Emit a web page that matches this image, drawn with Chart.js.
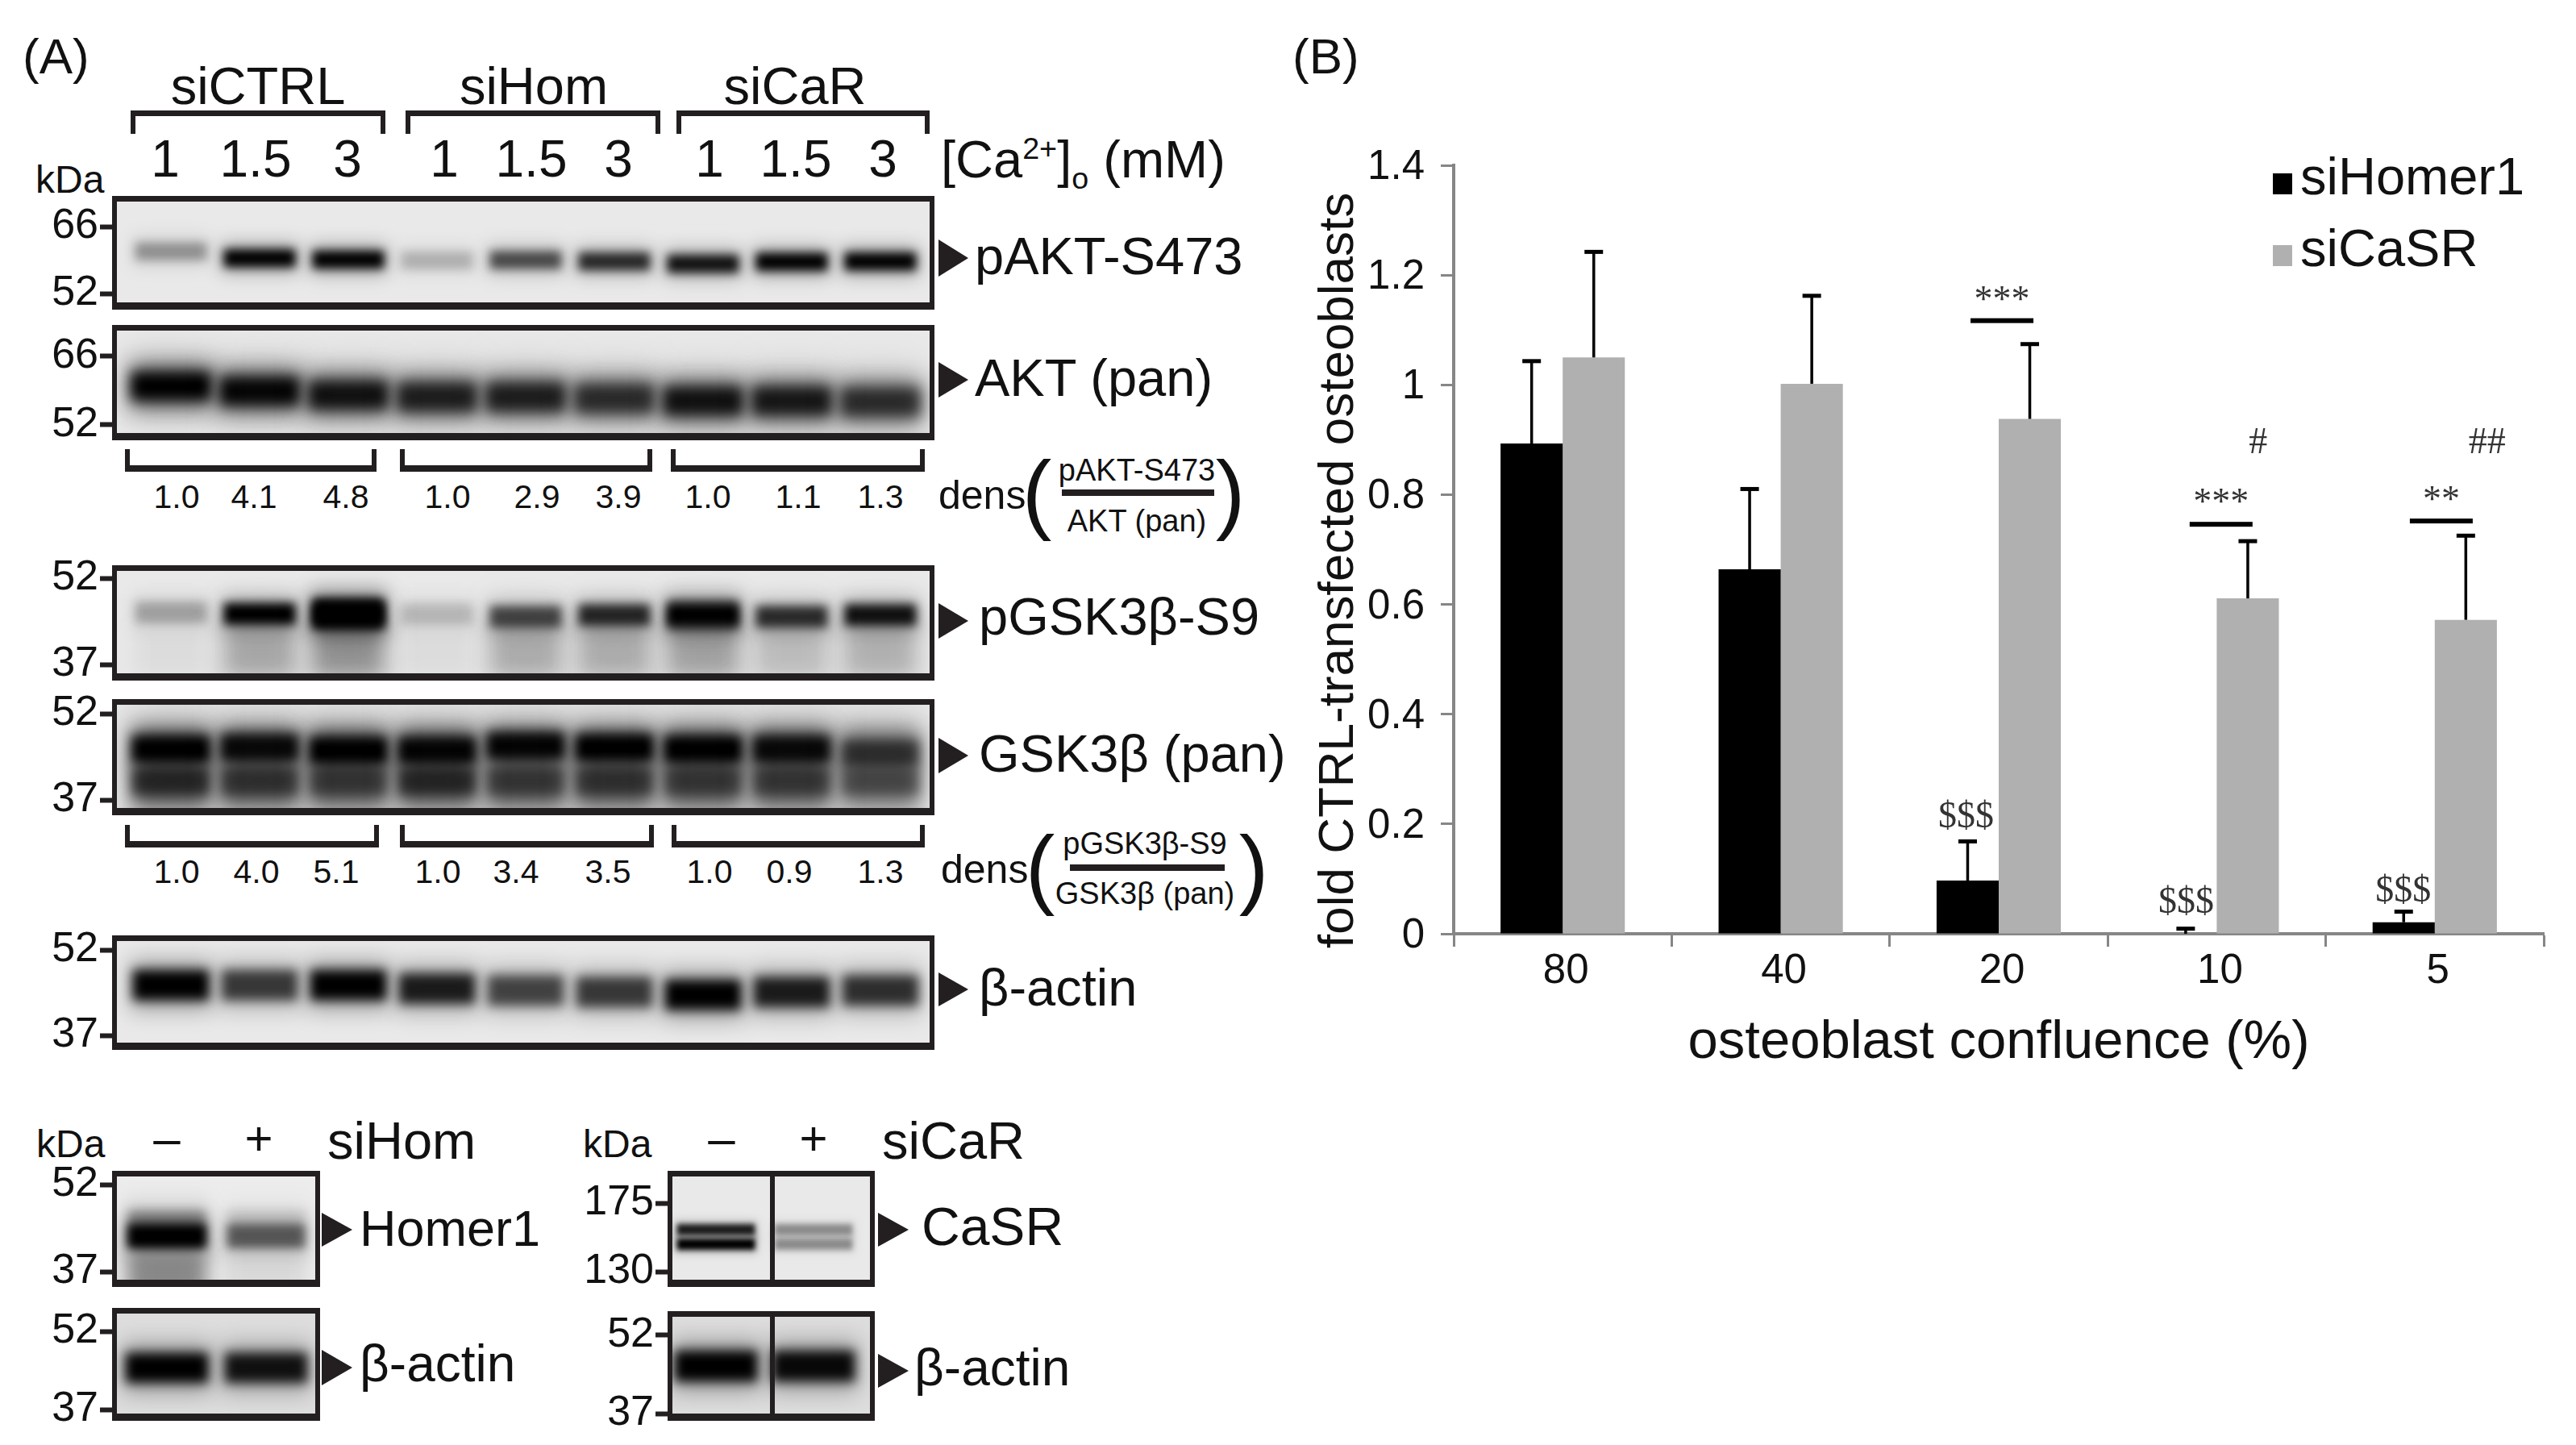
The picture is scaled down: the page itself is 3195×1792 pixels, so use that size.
<!DOCTYPE html>
<html>
<head>
<meta charset="utf-8">
<title>siHomer1 / siCaSR osteoblasts</title>
<script src="https://cdn.jsdelivr.net/npm/chart.js@4/dist/chart.umd.js"></script>
<style>
    html, body { margin: 0; background: #fff; }
    #page { position: relative; width: 3195px; height: 1792px; overflow: hidden; font-family: "Liberation Sans", Arial, sans-serif; color: #111; }
    canvas { position: absolute; }
    .t { position: absolute; white-space: nowrap; line-height: 1; }
    .t sup, .t sub { font-size: 58%; line-height: 0; }
    .box { position: absolute; border: 0 solid #231f20; box-sizing: border-box; }
    .arrow { position: absolute; width: 0; height: 0; border-style: solid; border-color: transparent transparent transparent #231f20; }
</style>
</head>
<body>
<div id="page"></div>
<script>
// ---------- Panel B data ----------
const confluence = ["80", "40", "20", "10", "5"];
const homerMeans = [0.893, 0.664, 0.097, 0, 0.021];
const casrMeans = [1.05, 1.002, 0.938, 0.611, 0.572];
const homerTops = [1.044, 0.811, 0.169, 0.01, 0.041];
const casrTops = [1.243, 1.163, 1.075, 0.716, 0.726];
const sigLines = [[2.015, 1.117], [3.02, 0.746], [4.03, 0.752]];
const sigMarks = [
    ["***", 2.015, 1.164], ["***", 3.02, 0.795], ["**", 4.03, 0.799],
    ["#", 3.19, 0.896], ["##", 4.24, 0.896],
    ["$$$", 1.85, 0.217], ["$$$", 2.86, 0.062], ["$$$", 3.856, 0.082]
];

// ---------- Panel A data (band centre in kDa, darkness 0-1 per lane) ----------
const lanes9 = [1, 2, 3, 4, 5, 6, 7, 8, 9];
const lanes2 = [1, 2];

const paktTicks = [66, 52];
const paktCentre = [60.8, 59.4, 59.1, 58.9, 59, 58.7, 58.2, 58.6, 58.7];
const paktDark = [0.32, 1, 1, 0.2, 0.62, 0.78, 0.9, 1, 1];

const aktTicks = [66, 52];
const aktCentre = [59.9, 58.9, 58.1, 57.7, 57.7, 57.4, 56.9, 56.9, 56.7];
const aktDark = [1, 0.95, 0.85, 0.75, 0.75, 0.65, 0.85, 0.8, 0.65];
const aktHaze = [0.3, 0.3, 0.3, 0.3, 0.3, 0.3, 0.3, 0.3, 0.3];

const pgskTicks = [52, 37];
const pgskCentre = [46.1, 45.8, 45.8, 45.8, 45.3, 45.6, 45.6, 45.3, 45.6];
const pgskDark = [0.25, 1, 1, 0.16, 0.62, 0.78, 1, 0.75, 0.9];
const pgskCore = [0, 0, 0.9, 0, 0, 0, 0.4, 0, 0];
const pgskSmearAt = [40, 40, 40, 40, 40, 40, 40, 40, 40];
const pgskSmear = [0.04, 0.24, 0.32, 0.04, 0.22, 0.22, 0.26, 0.16, 0.2];

const gskTicks = [52, 37];
const gskCentre = [45.8, 46.1, 45.6, 45.6, 46.4, 46.1, 45.8, 45.8, 45.1];
const gskDark = [1, 0.9, 1, 0.95, 0.95, 1, 1, 0.9, 0.6];
const gskLowerAt = [40.2, 40.2, 40.2, 40.2, 40.2, 40.2, 40.2, 40.2, 40.2];
const gskLower = [0.6, 0.5, 0.45, 0.6, 0.45, 0.5, 0.45, 0.45, 0.4];
const gskSmearAt = [42.5, 42.5, 42.5, 42.5, 42.5, 42.5, 42.5, 42.5, 42.5];
const gskSmear = [0.5, 0.5, 0.5, 0.5, 0.5, 0.5, 0.5, 0.5, 0.4];

const actinTicks = [52, 37];
const actinCentre = [45.8, 45.8, 45.8, 45.2, 44.9, 44.6, 44.1, 44.6, 44.9];
const actinDark = [1, 0.7, 1, 0.85, 0.65, 0.7, 1, 0.85, 0.75];

const homer1Ticks = [52, 37];
const homer1Centre = [43.1, 43.1];
const homer1Dark = [1, 0.5];
const homer1HazeAt = [44.5, 44.5];
const homer1Haze = [0.3, 0.1];
const homer1SmearAt = [35.2, 35.2];
const homer1Smear = [0.35, 0.06];

const casrTicks = [175, 130];
const casrUpper = [157.5, 157.5];
const casrLower = [148, 148];
const casrUpperDark = [0.85, 0.35];
const casrLowerDark = [1, 0.35];

const actinSmallCentreL = [45, 45];
const actinSmallCentreR = [46.1, 46.1];
const actinSmallDarkL = [1, 0.9];
const actinSmallDarkR = [1, 0.95];

// ---------- Helpers ----------
const FONT = '"Liberation Sans", Arial, sans-serif';
const SERIF = '"Liberation Serif", "Times New Roman", serif';
const INK = "#231f20";
const TEXT = "#111111";
const page = document.getElementById("page");

// text centred vertically on y, anchored at x by align (l / c / r)
function txt(html, x, y, size, align) {
    const el = document.createElement("span");
    el.className = "t";
    el.innerHTML = html;
    el.style.fontSize = size + "px";
    el.style.left = x + "px";
    el.style.top = y + "px";
    const dx = align === "c" ? "-50%" : align === "r" ? "-100%" : "0";
    el.style.transform = `translate(${dx},-50%)`;
    page.appendChild(el);
    return el;
}

function box(x, y, w, h, style) {
    const el = document.createElement("div");
    el.className = "box";
    el.style.cssText = `left:${x}px;top:${y}px;width:${w}px;height:${h}px;${style}`;
    page.appendChild(el);
}

function bracketDown(x0, x1, y0, y1) {
    box(x0, y0, x1 - x0, y1 - y0, "border-width:7px 6px 0 6px;");
}

function bracketUp(x0, x1, y0, y1) {
    box(x0, y0, x1 - x0, y1 - y0, "border-width:0 6px 8px 6px;");
}

function arrow(x0, x1, y0, y1) {
    const el = document.createElement("div");
    el.className = "arrow";
    const half = (y1 - y0) / 2;
    el.style.left = x0 + "px";
    el.style.top = y0 + "px";
    el.style.borderWidth = `${half}px 0 ${half}px ${x1 - x0}px`;
    page.appendChild(el);
}

function shade(d) {
    return `rgba(0,0,0,${d})`;
}

// ---------- Blot (one small bar chart, bands are floating bars, blurred) ----------
const AXIS_W = 112;
const PAD_V = 40;

function bandDataset(cfg, centre, dark, thick, width, blurPx) {
    return {
        data: cfg.lanes.map((l, i) => ({ x: l, y: [centre[i] - thick / 2, centre[i] + thick / 2] })),
        backgroundColor: dark.map(shade),
        borderWidth: 0,
        barThickness: width,
        grouped: false,
        blurPx: blurPx
    };
}

function makeBlot(cfg) {
    const [x, y, w, h] = cfg.frame;
    const canvas = document.createElement("canvas");
    canvas.width = w + AXIS_W;
    canvas.height = h + PAD_V * 2;
    canvas.style.left = (x - AXIS_W) + "px";
    canvas.style.top = (y - PAD_V) + "px";
    page.appendChild(canvas);

    // kDa range from the pixel rows of the two marker ticks
    const [k1, k2] = cfg.ticks;
    const [p1, p2] = cfg.tickRows;
    const perPx = (k1 - k2) / (p2 - p1);
    const yMax = k1 + (p1 - y) * perPx;
    const yMin = k2 - (y + h - p2) * perPx;

    // each band gets a faint wider halo under it, real bands are not hard edged
    const datasets = [];
    cfg.bands.forEach(b => {
        const halo = cfg.halo === undefined ? 0.3 : cfg.halo;
        const blurPx = b.blur || cfg.blur;
        datasets.push(bandDataset(cfg, b.centre, b.dark.map(d => d * halo), b.thick * 1.7, cfg.bandWidth + 6, blurPx * 1.8));
        datasets.push(bandDataset(cfg, b.centre, b.dark, b.thick, cfg.bandWidth, blurPx));
    });

    const blotLook = {
        id: "blotLook",
        beforeDatasetsDraw(chart) {
            const ctx = chart.ctx;
            const a = chart.chartArea;
            ctx.fillStyle = cfg.paper || "#e9e9e9";
            ctx.fillRect(a.left, a.top, a.right - a.left, a.bottom - a.top);
            ctx.save();
        },
        beforeDatasetDraw(chart, args) {
            chart.ctx.filter = `blur(${chart.data.datasets[args.index].blurPx}px)`;
        },
        afterDatasetsDraw(chart) {
            const ctx = chart.ctx;
            const a = chart.chartArea;
            ctx.restore();
            const b = cfg.border || [7, 6, 9];
            ctx.fillStyle = INK;
            ctx.fillRect(a.left, a.top, a.right - a.left, b[0]);
            ctx.fillRect(a.left, a.bottom - b[2], a.right - a.left, b[2]);
            ctx.fillRect(a.left, a.top, b[1], a.bottom - a.top);
            ctx.fillRect(a.right - b[1], a.top, b[1], a.bottom - a.top);
            if (cfg.divider) {
                ctx.fillRect(cfg.divider - x + a.left, a.top, 6, a.bottom - a.top);
            }
        }
    };

    new Chart(canvas.getContext("2d"), {
        type: "bar",
        data: { datasets: datasets },
        plugins: [blotLook],
        options: {
            responsive: false,
            animation: false,
            devicePixelRatio: 1,
            layout: { padding: { top: PAD_V, bottom: PAD_V } },
            plugins: { legend: { display: false }, tooltip: { enabled: false } },
            scales: {
                // offset must be off or the linear scale pads half a step on each side
                x: { type: "linear", display: false, offset: false, min: cfg.xRange[0], max: cfg.xRange[1] },
                y: {
                    type: "linear",
                    min: yMin,
                    max: yMax,
                    afterFit: s => { s.width = AXIS_W; },
                    afterBuildTicks: s => { s.ticks = cfg.ticks.map(v => ({ value: v })); },
                    border: { display: false },
                    grid: { drawOnChartArea: false, tickLength: 15, tickWidth: 6, tickColor: INK },
                    ticks: {
                        autoSkip: false,
                        padding: 2,
                        color: TEXT,
                        font: { family: FONT, size: 52 },
                        callback: v => String(v)
                    }
                }
            }
        }
    });
}

// ---------- Panel A ----------
const RANGE9 = [0.336, 9.61];
const RANGE_L = [0.447, 2.545];
const RANGE_R = [0.504, 2.628];

txt("(A)", 28, 70, 62, "l");
txt("(B)", 1603, 70, 62, "l");
txt("siCTRL", 320, 106, 65, "c");
txt("siHom", 662, 106, 65, "c");
txt("siCaR", 986, 106, 65, "c");
bracketDown(162, 478, 137, 166);
bracketDown(503, 819, 137, 166);
bracketDown(839, 1153, 137, 166);

const laneX = [205, 317, 431, 551, 659, 767, 880, 987, 1095];
["1", "1.5", "3", "1", "1.5", "3", "1", "1.5", "3"].forEach((s, i) => txt(s, laneX[i], 197, 64, "c"));
txt("[Ca<sup>2+</sup>]<sub>o</sub> (mM)", 1167, 197, 65, "l");
txt("kDa", 44, 223, 48, "l");

makeBlot({
    frame: [139, 243, 1020, 141], ticks: paktTicks, tickRows: [281, 364],
    lanes: lanes9, xRange: RANGE9, blur: 6, bandWidth: 88,
    bands: [{ centre: paktCentre, dark: paktDark, thick: 3.6 }]
});
arrow(1164, 1201, 297, 343);
txt("pAKT-S473", 1209, 317, 65, "l");

makeBlot({
    frame: [139, 403, 1020, 143], ticks: aktTicks, tickRows: [442, 527],
    lanes: lanes9, xRange: RANGE9, blur: 8, bandWidth: 98,
    bands: [
        { centre: aktCentre, dark: aktHaze, thick: 9, blur: 12 },
        { centre: aktCentre, dark: aktDark, thick: 5.6 }
    ]
});
arrow(1164, 1201, 449, 494);
txt("AKT (pan)", 1209, 468, 65, "l");

bracketUp(155, 467, 557, 585);
bracketUp(496, 809, 557, 585);
bracketUp(832, 1147, 557, 585);
const dens1X = [219, 315, 429, 555, 666, 767, 878, 990, 1092];
["1.0", "4.1", "4.8", "1.0", "2.9", "3.9", "1.0", "1.1", "1.3"].forEach((s, i) => txt(s, dens1X[i], 616, 41, "c"));
txt("dens", 1164, 614, 50, "l");
txt("(", 1286, 610, 110, "c");
txt(")", 1526, 610, 110, "c");
box(1317, 607, 189, 8, "background:" + INK + ";");
txt("pAKT-S473", 1410, 583, 38, "c");
txt("AKT (pan)", 1410, 646, 38, "c");

makeBlot({
    frame: [139, 701, 1020, 143], ticks: pgskTicks, tickRows: [717, 824],
    lanes: lanes9, xRange: RANGE9, blur: 6, bandWidth: 88, halo: 0.25,
    bands: [
        { centre: pgskSmearAt, dark: pgskSmear, thick: 10, blur: 12 },
        { centre: pgskCentre, dark: pgskDark, thick: 3.6 },
        { centre: pgskCentre, dark: pgskCore, thick: 5.4 }
    ]
});
arrow(1164, 1201, 748, 793);
txt("pGSK3β-S9", 1214, 764, 65, "l");

makeBlot({
    frame: [139, 867, 1020, 144], ticks: gskTicks, tickRows: [885, 992],
    lanes: lanes9, xRange: RANGE9, blur: 7, bandWidth: 96, halo: 0.2,
    bands: [
        { centre: gskSmearAt, dark: gskSmear, thick: 14, blur: 12 },
        { centre: gskLowerAt, dark: gskLower, thick: 4.5 },
        { centre: gskCentre, dark: gskDark, thick: 4.5 }
    ]
});
arrow(1164, 1201, 915, 959);
txt("GSK3β (pan)", 1214, 934, 65, "l");

bracketUp(155, 470, 1023, 1051);
bracketUp(496, 811, 1023, 1051);
bracketUp(833, 1147, 1023, 1051);
const dens2X = [219, 318, 417, 543, 640, 754, 880, 979, 1092];
["1.0", "4.0", "5.1", "1.0", "3.4", "3.5", "1.0", "0.9", "1.3"].forEach((s, i) => txt(s, dens2X[i], 1081, 41, "c"));
txt("dens", 1167, 1078, 50, "l");
txt("(", 1290, 1075, 110, "c");
txt(")", 1555, 1075, 110, "c");
box(1327, 1072, 192, 8, "background:" + INK + ";");
txt("pGSK3β-S9", 1420, 1046, 38, "c");
txt("GSK3β (pan)", 1420, 1108, 38, "c");

makeBlot({
    frame: [139, 1160, 1020, 142], ticks: actinTicks, tickRows: [1178, 1284],
    lanes: lanes9, xRange: RANGE9, blur: 7, bandWidth: 94,
    bands: [{ centre: actinCentre, dark: actinDark, thick: 5.2 }]
});
arrow(1164, 1201, 1206, 1249);
txt("β-actin", 1214, 1224, 65, "l");

// ---------- Knockdown blots ----------
txt("kDa", 45, 1419, 48, "l");
txt("–", 207, 1412, 60, "c");
txt("+", 321, 1412, 60, "c");
txt("siHom", 406, 1414, 65, "l");
txt("kDa", 723, 1419, 48, "l");
txt("–", 895, 1412, 60, "c");
txt("+", 1009, 1412, 60, "c");
txt("siCaR", 1094, 1414, 65, "l");

makeBlot({
    frame: [139, 1452, 258, 144], ticks: homer1Ticks, tickRows: [1469, 1577],
    lanes: lanes2, xRange: RANGE_L, blur: 6, bandWidth: 96, paper: "#ececec",
    bands: [
        { centre: homer1SmearAt, dark: homer1Smear, thick: 9, blur: 10 },
        { centre: homer1HazeAt, dark: homer1Haze, thick: 6 },
        { centre: homer1Centre, dark: homer1Dark, thick: 4 }
    ]
});
arrow(399, 437, 1504, 1547);
txt("Homer1", 446, 1523, 63, "l");

makeBlot({
    frame: [828, 1452, 257, 144], ticks: casrTicks, tickRows: [1492, 1577],
    lanes: lanes2, xRange: RANGE_R, blur: 3, bandWidth: 96, divider: 955, halo: 0.2,
    bands: [
        { centre: casrUpper, dark: casrUpperDark, thick: 7 },
        { centre: casrLower, dark: casrLowerDark, thick: 7 }
    ]
});
arrow(1089, 1127, 1504, 1547);
txt("CaSR", 1143, 1521, 66, "l");

makeBlot({
    frame: [139, 1622, 258, 140], ticks: actinTicks, tickRows: [1651, 1748],
    lanes: lanes2, xRange: RANGE_L, blur: 7, bandWidth: 102, paper: "#dddddd",
    bands: [{ centre: actinSmallCentreL, dark: actinSmallDarkL, thick: 5.6 }]
});
arrow(399, 437, 1674, 1718);
txt("β-actin", 446, 1691, 64, "l");

makeBlot({
    frame: [828, 1626, 257, 136], ticks: actinTicks, tickRows: [1656, 1753],
    lanes: lanes2, xRange: RANGE_R, blur: 7, bandWidth: 102, paper: "#dddddd", divider: 955,
    bands: [{ centre: actinSmallCentreR, dark: actinSmallDarkR, thick: 5.8 }]
});
arrow(1089, 1127, 1679, 1721);
txt("β-actin", 1134, 1696, 64, "l");

// ---------- Panel B plugins ----------
const errorCaps = {
    id: "errorCaps",
    afterDatasetsDraw(chart) {
        const ctx = chart.ctx;
        const yScale = chart.scales.y;
        [homerTops, casrTops].forEach((tops, d) => {
            chart.getDatasetMeta(d).data.forEach((bar, i) => {
                const yTop = yScale.getPixelForValue(tops[i]);
                ctx.fillStyle = "#000";
                ctx.fillRect(bar.x - 1.75, yTop, 3.5, bar.y - yTop);
                ctx.fillRect(bar.x - 11.5, yTop - 2, 23, 5);
            });
        });
    }
};

const sigLabels = {
    id: "sigLabels",
    afterDatasetsDraw(chart) {
        const ctx = chart.ctx;
        const { x, y } = chart.scales;
        ctx.fillStyle = "#000";
        sigLines.forEach(([cat, val]) => {
            ctx.fillRect(x.getPixelForValue(cat) - 39, y.getPixelForValue(val) - 3, 78, 6);
        });
        ctx.textAlign = "center";
        ctx.textBaseline = "middle";
        sigMarks.forEach(([mark, cat, val]) => {
            ctx.fillStyle = "#333";
            ctx.font = `46px ${SERIF}`;
            // asterisks sit high in the em box, the $ marks read a touch low
            const drop = mark[0] === "*" ? 8 : mark[0] === "$" ? 4 : 2;
            ctx.fillText(mark, x.getPixelForValue(cat), y.getPixelForValue(val) + drop);
        });
    }
};

const sideLegend = {
    id: "sideLegend",
    afterDraw(chart) {
        const ctx = chart.ctx;
        const left = 2819 - chart.canvas.offsetLeft;
        const top = 223 - chart.canvas.offsetTop;
        ctx.font = `65px ${FONT}`;
        ctx.textBaseline = "middle";
        ctx.textAlign = "left";
        chart.data.datasets.forEach((ds, i) => {
            const rowY = top + i * 89;
            ctx.fillStyle = ds.backgroundColor;
            ctx.fillRect(left, rowY - 8, 24, 26);
            ctx.fillStyle = TEXT;
            ctx.fillText(ds.label, left + 34, rowY);
        });
    }
};

// ---------- Panel B chart ----------
const barCanvas = document.createElement("canvas");
barCanvas.width = 3195 - 1626;
barCanvas.height = 1331 - 150;
barCanvas.style.left = "1626px";
barCanvas.style.top = "150px";
page.appendChild(barCanvas);

new Chart(barCanvas.getContext("2d"), {
    type: "bar",
    data: {
        labels: confluence,
        datasets: [
            { label: "siHomer1", data: homerMeans, backgroundColor: "#000000" },
            { label: "siCaSR", data: casrMeans, backgroundColor: "#b0b0b0" }
        ]
    },
    plugins: [errorCaps, sigLabels, sideLegend],
    options: {
        responsive: false,
        animation: false,
        devicePixelRatio: 1,
        layout: { padding: { top: 55, right: 40 } },
        datasets: { bar: { barPercentage: 1, categoryPercentage: 0.57, borderWidth: 0 } },
        plugins: { legend: { display: false }, tooltip: { enabled: false } },
        scales: {
            x: {
                afterFit: s => { s.height = 173; },
                border: { color: "#868686", width: 4 },
                grid: { offset: true, drawOnChartArea: false, tickLength: 16, tickWidth: 3, tickColor: "#868686" },
                ticks: { color: TEXT, padding: 0, labelOffset: 4, font: { family: FONT, size: 51 } },
                title: { display: true, text: "osteoblast confluence (%)", color: TEXT, font: { family: FONT, size: 67, lineHeight: 1 } }
            },
            y: {
                min: 0,
                max: 1.4,
                afterFit: s => { s.width = 177; },
                border: { color: "#868686", width: 4 },
                grid: { drawOnChartArea: false, tickLength: 16, tickWidth: 3, tickColor: "#868686" },
                ticks: {
                    stepSize: 0.2,
                    color: TEXT,
                    padding: 20,
                    labelOffset: 3,
                    font: { family: FONT, size: 51 },
                    callback: v => String(+v.toFixed(1))
                },
                title: {
                    display: true,
                    // trailing spaces push the centred title down along the axis
                    text: "fold CTRL-transfected osteoblasts   ",
                    color: TEXT,
                    font: { family: FONT, size: 62, lineHeight: 1 }
                }
            }
        }
    }
});
</script>
</body>
</html>
